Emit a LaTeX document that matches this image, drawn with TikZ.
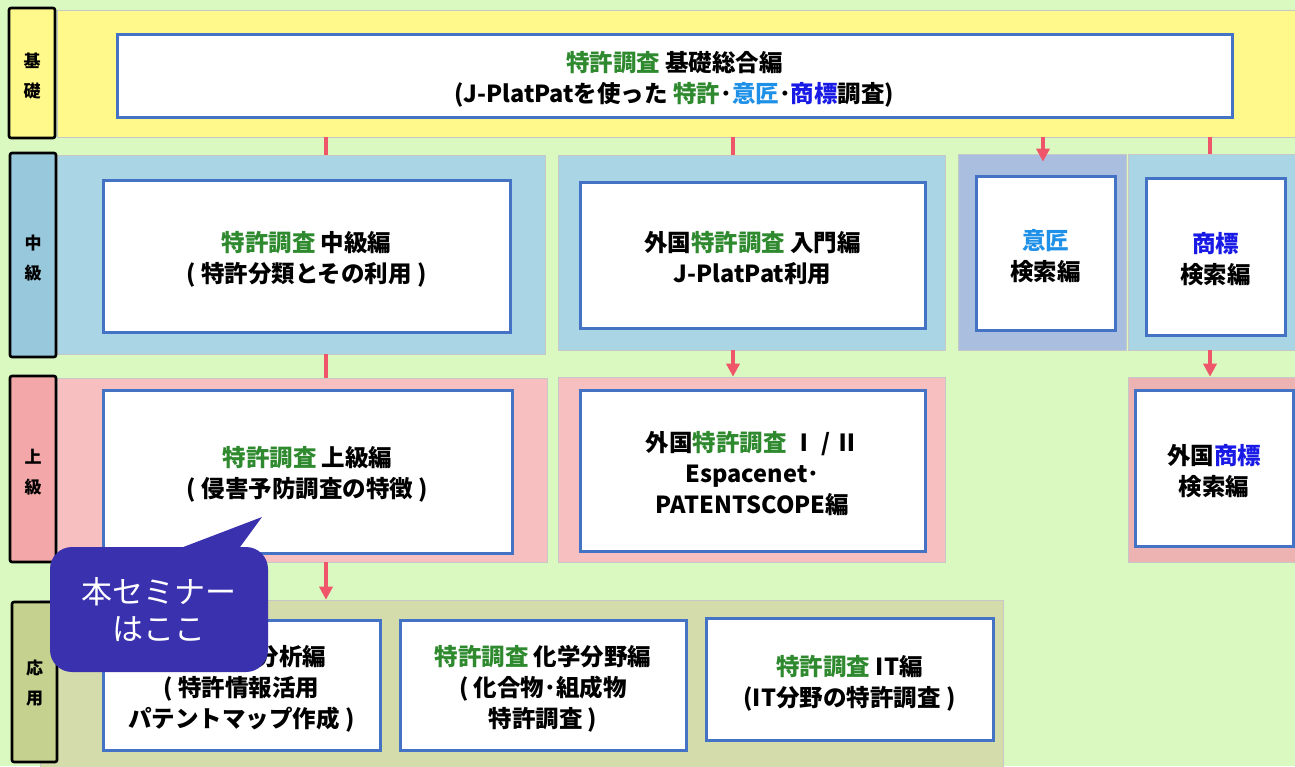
\documentclass[tikz,border=0pt]{standalone}
\usepackage{fontspec}
\setmainfont{Noto Sans CJK JP}
\usetikzlibrary{arrows.meta}
\definecolor{bg}{HTML}{DAF9C0}
\definecolor{yel}{HTML}{FFF98C}
\definecolor{midblue}{HTML}{AAD5E5}
\definecolor{midlab}{HTML}{98C8DC}
\definecolor{m3blue}{HTML}{AABFE0}
\definecolor{pinkb}{HTML}{F8BFC0}
\definecolor{pinklab}{HTML}{F3A7A8}
\definecolor{pinkdk}{HTML}{EDB3B3}
\definecolor{oliveb}{HTML}{D3DCAA}
\definecolor{olivelab}{HTML}{C4D18F}
\definecolor{boxblue}{HTML}{4472C4}
\definecolor{arrred}{HTML}{F0566A}
\definecolor{callcol}{HTML}{3A31AE}
\definecolor{kgreen}{HTML}{2F8A2F}
\definecolor{klblue}{HTML}{1E90E8}
\definecolor{kdblue}{HTML}{1A1AE6}
\newcommand{\jgr}[1]{\textcolor{kgreen}{#1}}
\newcommand{\jlb}[1]{\textcolor{klblue}{#1}}
\newcommand{\jdb}[1]{\textcolor{kdblue}{#1}}
\begin{document}
\begin{tikzpicture}[x=1pt,y=-1pt,
  lab/.style={draw=black, line width=2.6pt, rounded corners=2pt, inner sep=0pt},
  labtxt/.style={inner sep=0pt, font=\bfseries\fontsize{17}{30}\selectfont, align=center, text=black},
  band/.style={draw=black!22, line width=0.6pt, inner sep=0pt},
  wbox/.style={draw=boxblue, line width=3pt, fill=white, inner sep=0pt},
  wtxt/.style={inner sep=0pt, align=center, font=\bfseries\fontsize{23.5}{31}\selectfont},
  seminarbox/.style={fill=callcol, rounded corners=22pt, text=white, inner sep=0pt,
    font=\fontsize{31}{37}\selectfont, align=center},
  link/.style={draw=arrred, line width=3.5pt},
  linkhead/.style={link, -{Triangle[width=13pt,length=13pt]}}
]
\useasboundingbox (0,0) rectangle (1295,766);
\fill[bg] (0,0) rectangle (1295,766);

% bands
\node[band, fill=yel, minimum width=1240pt, minimum height=127pt] (b0) at (677,73.5) {};
\node[band, fill=midblue, minimum width=488pt, minimum height=199pt] (bm1) at (301,254.5) {};
\node[band, fill=midblue, minimum width=387pt, minimum height=195pt] (bm2) at (751.5,252.5) {};
\node[band, fill=m3blue, minimum width=168pt, minimum height=196pt] (bm3) at (1042,252) {};
\node[band, fill=midblue, minimum width=169pt, minimum height=196pt] (bm4) at (1212.5,252) {};
\node[band, fill=pinkb, minimum width=490pt, minimum height=184pt] (bu1) at (302,470) {};
\node[band, fill=pinkb, minimum width=387pt, minimum height=185pt] (bu2) at (751.5,469.5) {};
\node[band, fill=pinkdk, minimum width=169pt, minimum height=185pt] (bu3) at (1212.5,469.5) {};
\node[band, fill=oliveb, minimum width=963pt, minimum height=170pt] (ba) at (521.5,685) {};

% labels
\node[lab, fill=yel, minimum width=46pt, minimum height=130pt] (l1) at (32,73) {};
\node[lab, fill=midlab, minimum width=46pt, minimum height=204pt] (l2) at (33,255) {};
\node[lab, fill=pinklab, minimum width=46pt, minimum height=186pt] (l3) at (33,469) {};
\node[lab, fill=olivelab, minimum width=45pt, minimum height=160pt] (l4) at (34.5,682) {};
\node[labtxt] (l1t) at ([yshift=-3pt]l1.center) {基\\礎};
\node[labtxt] (l2t) at ([yshift=-3pt]l2.center) {中\\級};
\node[labtxt] (l3t) at ([yshift=-3pt]l3.center) {上\\級};
\node[labtxt] (l4t) at ([yshift=-1pt]l4.center) {応\\用};

% white boxes
\node[wbox, minimum width=1115pt, minimum height=83pt] (w0) at (674.5,75.5) {};
\node[wbox, minimum width=407pt, minimum height=152pt] (m1) at (306.5,256) {};
\node[wbox, minimum width=345pt, minimum height=146pt] (m2) at (752.5,255) {};
\node[wbox, minimum width=139pt, minimum height=154pt] (m3) at (1045.5,253) {};
\node[wbox, minimum width=139pt, minimum height=157pt] (m4) at (1215.5,256.5) {};
\node[wbox, minimum width=409pt, minimum height=163pt] (u1) at (307.5,471.5) {};
\node[wbox, minimum width=345pt, minimum height=161pt] (u2) at (752.5,470.5) {};
\node[wbox, minimum width=158pt, minimum height=156pt] (u3) at (1214,468) {};
\node[wbox, minimum width=277pt, minimum height=130pt] (a1) at (241.5,685) {};
\node[wbox, minimum width=286pt, minimum height=130pt] (a2) at (543,685) {};
\node[wbox, minimum width=287pt, minimum height=122pt] (a3) at (849.5,679) {};

% box texts
\node[wtxt] (w0t) at ([yshift=-4pt]w0.center)
  {\jgr{特許調査} 基礎総合編\\(J-PlatPatを使った \jgr{特許}･\jlb{意匠}･\jdb{商標}調査)};
\node[wtxt] (m1t) at ([yshift=-3pt]m1.center) {\jgr{特許調査} 中級編\\( 特許分類とその利用 )};
\node[wtxt] (m2t) at ([yshift=-3pt]m2.center) {外国\jgr{特許調査} 入門編\\J-PlatPat利用};
\node[wtxt] (m3t) at ([yshift=-3pt]m3.center) {\jlb{意匠}\\検索編};
\node[wtxt] (m4t) at ([yshift=-3pt]m4.center) {\jdb{商標}\\検索編};
\node[wtxt] (u1t) at ([yshift=-3pt]u1.center) {\jgr{特許調査} 上級編\\( 侵害予防調査の特徴 )};
\node[wtxt] (u2t) at ([yshift=-3pt]u2.center) {外国\jgr{特許調査} Ⅰ / Ⅱ\\Espacenet･\\PATENTSCOPE編};
\node[wtxt] (u3t) at ([yshift=-3pt]u3.center) {外国\jdb{商標}\\検索編};
\node[wtxt] (a1t) at ([yshift=-4pt]a1.center) {\jgr{特許調査} 分析編\\( 特許情報活用\\パテントマップ作成 )};
\node[wtxt] (a2t) at ([yshift=-4pt]a2.center) {\jgr{特許調査} 化学分野編\\( 化合物･組成物\\特許調査 )};
\node[wtxt] (a3t) at ([yshift=-4pt]a3.center) {\jgr{特許調査} IT編\\(IT分野の特許調査 )};

% connectors
\draw[link] (326,0 |- b0.south) -- (326,0 |- bm1.north);
\draw[link] (733,0 |- b0.south) -- (733,0 |- bm2.north);
\draw[linkhead, shorten >=-8pt] (1043,0 |- b0.south) -- (1043,0 |- bm3.north);
\draw[link] (1210,0 |- b0.south) -- (1210,0 |- bm4.north);
\draw[link] (326,0 |- bm1.south) -- (326,0 |- bu1.north);
\draw[linkhead] (733,0 |- bm2.south) -- (733,0 |- bu2.north);
\draw[linkhead] (1210,0 |- bm4.south) -- (1210,0 |- bu3.north);
\draw[linkhead] (326,0 |- bu1.south) -- (326,0 |- ba.north);

% callout
\node[seminarbox, minimum width=218pt, minimum height=125pt] (cb) at (159,609.5)
  {本セミナー\\はここ};
\fill[callcol] ([xshift=17pt,yshift=-3pt]cb.north) -- (262,517) -- ([xshift=79pt,yshift=-3pt]cb.north) -- cycle;
\end{tikzpicture}
\end{document}
